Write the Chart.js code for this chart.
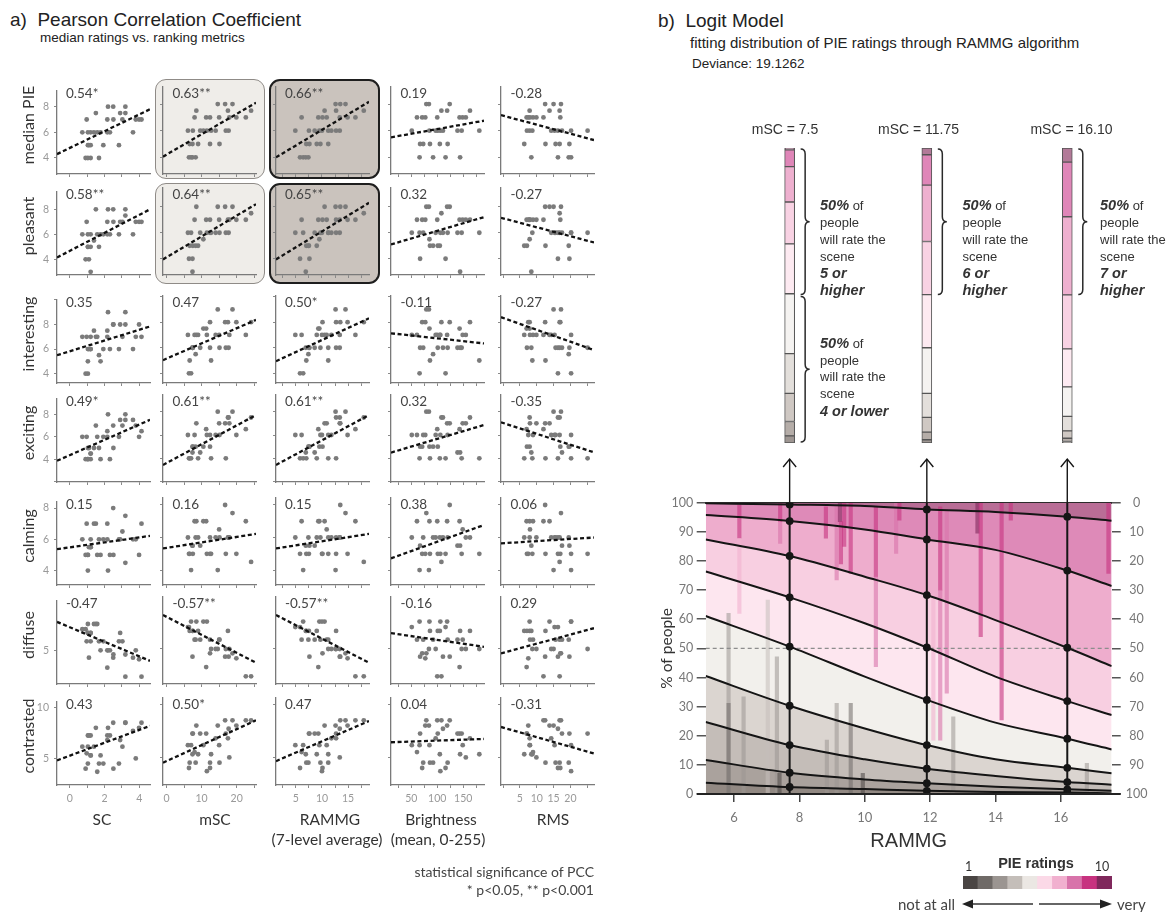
<!DOCTYPE html>
<html>
<head>
<meta charset="utf-8">
<script src="https://cdn.jsdelivr.net/npm/chart.js@4.4.1/dist/chart.umd.min.js"></script>
<style>
  html, body { margin:0; padding:0; background:#fff; }
  body { width:1169px; height:912px; position:relative; overflow:hidden; font-family:"Liberation Sans", Arial, sans-serif; }
  canvas { position:absolute; }
  .t { position:absolute; white-space:pre; color:#222; }
  .box { position:absolute; box-sizing:border-box; }
</style>
</head>
<body>
<script>
// =================== DATA : panel a (31 scenes) ===================
const metricNames = ['SC', 'mSC', 'RAMMG', 'Brightness', 'RMS'];
const metricSub   = ['', '', '(7-level average)', '(mean, 0-255)', ''];
const ratingNames = ['median PIE', 'pleasant', 'interesting', 'exciting', 'calming', 'diffuse', 'contrasted'];

const sc         = [2.2, 2.5, 3.2, 1.5, 2.9, 3.2, 0.97, 2.16, 2.51, 3.03, 3.8, 3.99, 4.13, 0.72, 1.04, 1.2, 1.39, 1.58, 1.77, 2.16, 2.31, 3.64, 1.04, 1.1, 1.2, 1.93, 2.83, 0.91, 1.04, 1.2, 1.68];
const msc        = [14.6, 16.7, 18.8, 8.5, 17.5, 24.1, 8.0, 11.3, 12.4, 15.0, 17.9, 19.9, 22.6, 6.1, 7.5, 9.6, 10.5, 11.5, 12.7, 14.0, 16.9, 17.7, 6.6, 7.4, 9.0, 12.4, 15.1, 6.4, 7.0, 7.4, 8.3];
const rammg      = [12.6, 13.5, 14.5, 10.5, 12.7, 18.0, 6.1, 9.3, 10.1, 10.9, 13.4, 14.9, 16.4, 4.9, 7.5, 8.6, 9.5, 10.0, 11.2, 11.8, 12.7, 13.4, 7.0, 7.6, 9.0, 9.7, 11.2, 5.8, 6.4, 6.9, 7.4];
const brightness = [84, 124, 79, 119, 163, 108, 61, 143, 71, 149, 155, 77, 100, 51, 101, 139, 85, 106, 181, 97, 147, 111, 86, 67, 105, 73, 120, 116, 66, 144, 92];
const rms        = [15.0, 12.5, 17.2, 13.8, 7.9, 16.8, 8.9, 7.0, 17.0, 8.0, 9.9, 7.5, 12.0, 15.3, 7.1, 17.5, 7.9, 20.2, 8.7, 14.3, 25.1, 16.3, 12.6, 19.7, 6.3, 16.8, 15.6, 16.3, 20.2, 8.4, 19.5];

const medianPIE   = [8, 8, 8, 7.5, 7.5, 7.5, 7, 7, 7, 7, 7, 7, 7, 6, 6, 6, 6, 6, 6, 6, 6, 6, 5, 5, 5, 5, 5, 4, 4, 4, 4];
const pleasant    = [8, 8, 8, 8, 7, 7.5, 7, 7, 7, 7, 7, 7, 7, 6, 5, 6, 5.5, 6, 6, 6, 6, 6, 5, 4, 5, 6, 6, 4, 6, 3, 5];
const interesting = [9, 8, 9, 7, 8, 8, 7, 7.5, 8, 7, 7, 8, 7, 7, 6, 6, 7.5, 7, 5, 7, 6, 6, 5, 6, 7, 6, 6, 4, 4, 6, 5.5];
const exciting    = [8, 7, 8, 7, 7.5, 7.5, 6, 6.5, 5, 7, 7, 6, 6.5, 6, 5, 4.5, 5, 6, 4, 6, 4, 7.5, 4, 5, 4, 6, 6, 4, 4, 4.5, 5];
const calming     = [4, 8, 7.5, 7, 6, 4.5, 7, 7, 5, 6.5, 6, 5, 7, 6, 5, 5.5, 7, 5, 5, 6, 5, 6, 5, 5.5, 6, 6, 6, 5, 4, 5.5, 6];
const diffuse     = [5.0, 4.86, 4.92, 5.5, 5.33, 4.5, 5.17, 4.67, 4.92, 5.17, 5.0, 4.83, 4.5, 5.4, 5.33, 5.17, 5.5, 5.5, 5.0, 5.0, 5.0, 4.86, 5.33, 4.86, 5.33, 5.17, 5.17, 5.4, 5.5, 5.33, 5.17];
const contrasted  = [8, 8.5, 8.5, 8, 6.8, 8.5, 5.5, 7.25, 4.0, 6.15, 5.0, 8, 8.5, 6.15, 7.25, 7.25, 6.15, 3.7, 5.3, 6.8, 7.25, 7.7, 4.5, 7.25, 5.3, 4.5, 4.5, 4.0, 6.15, 5.3, 4.5];

// regression (dashed) line values at the left and right end of each x axis, per rating row
const fitStart = [
  [4.3, 4.05, 4.0, 5.5, 7.17],
  [4.15, 3.95, 3.95, 5.1, 7.15],
  [5.5, 5.03, 4.95, 7.13, 8.39],
  [3.86, 3.43, 3.43, 4.49, 7.09],
  [5.37, 5.33, 5.33, 4.72, 5.64],
  [5.54, 5.62, 5.62, 5.29, 4.92],
  [4.81, 4.5, 4.65, 6.43, 7.87]
];
const fitEnd = [
  [7.8, 8.1, 8.17, 6.75, 5.3],
  [8.0, 8.2, 8.3, 7.2, 5.25],
  [7.84, 8.18, 8.3, 6.34, 5.82],
  [7.51, 7.71, 7.71, 6.86, 4.51],
  [6.22, 6.22, 6.22, 6.77, 6.0],
  [4.8, 4.75, 4.75, 5.04, 5.38],
  [8.19, 8.5, 8.43, 6.74, 5.37]
];
const pccLabels = [
  ['0.54*', '0.63**', '0.66**', '0.19', '-0.28'],
  ['0.58**', '0.64**', '0.65**', '0.32', '-0.27'],
  ['0.35', '0.47', '0.50*', '-0.11', '-0.27'],
  ['0.49*', '0.61**', '0.61**', '0.32', '-0.35'],
  ['0.15', '0.16', '0.15', '0.38', '0.06'],
  ['-0.47', '-0.57**', '-0.57**', '-0.16', '0.29'],
  ['0.43', '0.50*', '0.47', '0.04', '-0.31']
];
const xTickLabels = [[0, 2, 4], [0, 10, 20], [5, 10, 15], [50, 100, 150], [5, 10, 15, 20]];
const yTickLabels = [[4, 6, 8], [4, 6, 8], [4, 6, 8], [4, 6, 8], [4, 6, 8], [5], [5, 10]];

// =================== DATA : panel b (logit model) ===================
const rammgGrid  = [5.13, 7.7, 10, 11.9, 14, 16.2, 17.56];
const sliceRammg = [7.7, 11.9, 16.2];
const sliceLabels = ['mSC = 7.5', 'mSC = 11.75', 'mSC = 16.10'];
// cumulative % of people at each category boundary (top: 9|10 ... bottom: 1|2)
const b9_10 = [99.8, 99.4, 98.9, 97.7, 96.8, 95.2, 93.8];
const b8_9  = [95.8, 93.7, 90.8, 87.4, 83.8, 76.7, 71.4];
const b7_8  = [87.4, 81.7, 74.6, 68.3, 59.7, 50.2, 43.9];
const b6_7  = [76.4, 67.5, 58.6, 50.3, 40.3, 31.9, 27.1];
const b5_6  = [61.1, 50.6, 40.3, 32.3, 24.5, 19.0, 15.3];
const b4_5  = [40.5, 30.3, 22.5, 16.8, 11.9, 9.0, 7.1];
const b3_4  = [24.7, 16.8, 11.9, 8.7, 6.2, 4.1, 3.2];
const b2_3  = [11.7, 7.3, 5.0, 3.7, 2.5, 1.6, 1.1];
const b1_2  = [3.9, 2.4, 1.7, 1.1, 0.7, 0.5, 0.2];
const boundaries = [b9_10, b8_9, b7_8, b6_7, b5_6, b4_5, b3_4, b2_3, b1_2];

const pieRatings = [1, 2, 3, 4, 5, 6, 7, 8, 9, 10];
// observed rating streaks (RAMMG, low %, high %, rating)
const stripeX      = [6.16, 6.16, 7.41, 7.41, 8.81, 9.14, 9.24, 9.27, 9.37, 9.57, 10.34, 10.34, 10.96, 11.06, 12.1, 12.31, 12.31, 12.51, 13.45, 13.55, 14.19, 14.47, 17.46, 5.83, 5.83, 6.29, 7.03, 7.31, 7.39, 8.84, 9.14, 9.57, 9.94, 12.71, 16.8];
const stripeLow    = [87.8, 62, 93.5, 86, 87.8, 73.5, 93.5, 79, 85, 75.7, 74.6, 43.7, 82.6, 94, 18.5, 70, 18.5, 34.6, 89.5, 54, 25.4, 94, 75.7, 0.2, 0.2, 0.2, 0.2, 0.2, 0.2, 0.2, 0.2, 0.2, 0.2, 0.2, 0.2];
const stripeHigh   = [99.2, 87.8, 99.8, 93.5, 98.6, 98.6, 99.8, 93.5, 99.8, 99.8, 98.6, 74.6, 99.8, 99.8, 68.9, 98.6, 70, 97.5, 99.8, 99.8, 99.8, 99.8, 99.8, 62, 31.1, 33.4, 66.6, 47.1, 7.1, 18.5, 31.1, 31.1, 7.1, 26.5, 10.5];
const stripeRating = [9, 7, 9, 8, 9, 8, 10, 9, 9, 9, 9, 8, 8, 9, 7, 9, 8, 8, 10, 9, 9, 9, 9, 3, 2, 3, 4, 3, 1, 3, 3, 2, 1, 3, 3];

// =================== STYLE ===================
const legendColors = ['#4a4543', '#6f6a67', '#9b9591', '#c4beb9', '#ebe7e3', '#fbd9e7', '#f1b0cf', '#d873aa', '#c7327f', '#80285c'];
const regionColors = ['#928983', '#aaa29d', '#c4bdb8', '#dbd5d0', '#f2f0ec', '#fde6ef', '#f8cfe1', '#eeadcd', '#de8ab8', '#b96d96'];
const barColors    = ['#9e9692', '#b5ada8', '#cfc8c3', '#e3dfdb', '#f5f3f1', '#fdeaf1', '#f8d2e3', '#eeb0cf', '#df86b8', '#b27a98'];
const MYR = 'Lato, "Open Sans", sans-serif';
const ARI = '"Liberation Sans", Arial, sans-serif';

function hexA(hex, a) {
  const n = parseInt(hex.slice(1), 16);
  return `rgba(${(n >> 16) & 255},${(n >> 8) & 255},${n & 255},${a})`;
}
function txt(html, x, y, o = {}) {
  const d = document.createElement('div');
  d.className = 't';
  d.innerHTML = html;
  const s = d.style;
  s.left = x + 'px'; s.top = y + 'px';
  s.fontFamily = o.family || ARI;
  s.fontSize = (o.size || 13) + 'px';
  s.color = o.color || '#222';
  s.lineHeight = o.lh ? o.lh + 'px' : '1';
  if (o.weight) s.fontWeight = o.weight;
  const tx = o.align === 'center' ? '-50%' : o.align === 'right' ? '-100%' : '0';
  const ty = o.top ? '0' : '-50%';
  s.transform = `translate(${tx}, ${ty})` + (o.rotate ? ` rotate(${o.rotate}deg)` : '');
  document.body.appendChild(d);
  return d;
}
function box(x, y, w, h, fill, border, bw) {
  const d = document.createElement('div');
  d.className = 'box';
  Object.assign(d.style, { left: x + 'px', top: y + 'px', width: w + 'px', height: h + 'px',
    background: fill, border: `${bw}px solid ${border}`, borderRadius: '11px' });
  document.body.appendChild(d);
}
function canvasAt(x, y, w, h) {
  const c = document.createElement('canvas');
  c.width = w; c.height = h;
  c.style.left = x + 'px'; c.style.top = y + 'px';
  c.style.width = w + 'px'; c.style.height = h + 'px';
  document.body.appendChild(c);
  return c;
}
const baseOpts = { responsive: false, animation: false, events: [], devicePixelRatio: 1,
  plugins: { legend: { display: false }, tooltip: { enabled: false } } };

// =================== PANEL A ===================
const metrics = [sc, msc, rammg, brightness, rms];
const ratings = [medianPIE, pleasant, interesting, exciting, calming, diffuse, contrasted];
const colLeft = [56.5, 163, 275.5, 391, 501];
const rowBottom = [174, 275, 383, 482, 585, 684, 785];
const CW = 93, CH = 87;
const xRanges = [[-0.74, 4.62], [-1, 25.5], [1.2, 19.0], [11, 190], [-0.6, 27]];
const xSteps = [1, 5, 2.5, 25, 5];
const yRanges = [[2.75, 9.28], [2.75, 9.44], [3.24, 10.05], [1.97, 9.43], [3.08, 8.43], [4.36, 5.95], [2.4, 10.6]];
const ySteps = [2, 2, 2, 2, 2, 1, 5];

// highlight boxes (mSC and RAMMG vs median PIE / pleasant)
box(155, 79, 110, 100, '#efede9', '#8f8b87', 1.2);
box(155, 183, 110, 101, '#efede9', '#8f8b87', 1.2);
box(269, 79, 111, 100, '#cac3bd', '#1e1e1e', 2.6);
box(269, 183, 111, 101, '#cac3bd', '#1e1e1e', 2.6);

txt('a)  Pearson Correlation Coefficient', 10, 18.5, { size: 19 });
txt('median ratings vs. ranking metrics', 40, 37.5, { size: 13.5 });

for (let r = 0; r < 7; r++) {
  for (let c = 0; c < 5; c++) {
    const top = rowBottom[r] - CH;
    const cv = canvasAt(colLeft[c] - 30, top - 8, 30 + CW + 6, 8 + CH + 25);
    const pts = ratings[r].map((v, i) => ({ x: metrics[c][i], y: v }));
    new Chart(cv, {
      type: 'scatter',
      data: { datasets: [
        { data: pts, pointRadius: 2.4, pointBackgroundColor: '#7b7b7b', pointBorderWidth: 0, order: 2 },
        { type: 'line', data: [{ x: xRanges[c][0], y: fitStart[r][c] }, { x: xRanges[c][1], y: fitEnd[r][c] }],
          borderColor: '#111', borderWidth: 2.3, borderDash: [4, 2.6], pointRadius: 0, fill: false, order: 1 }
      ]},
      options: Object.assign({}, baseOpts, {
        layout: { padding: { top: 8, right: 6, left: 0, bottom: 0 } },
        scales: {
          x: { type: 'linear', min: xRanges[c][0], max: xRanges[c][1],
            afterFit: a => { a.height = 25; },
            grid: { drawOnChartArea: false, drawTicks: true, tickLength: 3, color: '#8a8a8a', lineWidth: 1 },
            border: { display: true, color: '#7a7a7a', width: 1.3 },
            ticks: { display: r === 6, stepSize: xSteps[c], includeBounds: false, padding: 4, maxRotation: 0, autoSkip: false,
              color: '#999', font: { family: MYR, size: 10.5 },
              callback: v => xTickLabels[c].includes(v) ? String(v) : '' } },
          y: { type: 'linear', min: yRanges[r][0], max: yRanges[r][1],
            afterFit: a => { a.width = 30; },
            grid: { drawOnChartArea: false, drawTicks: true, tickLength: 3, color: '#8a8a8a', lineWidth: 1 },
            border: { display: true, color: '#7a7a7a', width: 1.3 },
            ticks: { display: c === 0, stepSize: ySteps[r], includeBounds: false, padding: 5, autoSkip: false,
              color: '#999', font: { family: MYR, size: 10.5 },
              callback: v => yTickLabels[r].includes(v) ? String(v) : '' } }
        }
      })
    });
    txt(pccLabels[r][c], colLeft[c] + 9.5, top + 6.5, { family: MYR, size: 13.5, color: '#444' });
  }
  txt(ratingNames[r], 28, rowBottom[r] - CH / 2 - 6, { family: MYR, size: 16, color: '#333', align: 'center', rotate: -90 });
}
const colLabelX = [102, 215, 330, 441, 553];
for (let c = 0; c < 5; c++) {
  txt(metricNames[c], colLabelX[c], 820, { family: MYR, size: 15.5, color: '#333', align: 'center' });
  if (metricSub[c]) txt(metricSub[c], colLabelX[c] - 3, 839.5, { family: MYR, size: 15.5, color: '#333', align: 'center' });
}
txt('statistical significance of PCC', 594, 871.5, { family: MYR, size: 14, color: '#444', align: 'right' });
txt('* p&lt;0.05, ** p&lt;0.001', 594, 889.5, { family: MYR, size: 14, color: '#444', align: 'right' });

// =================== PANEL B ===================
txt('b)  Logit Model', 658, 19.5, { size: 19 });
txt('fitting distribution of PIE ratings through RAMMG algorithm', 690, 42, { size: 15 });
txt('Deviance: 19.1262', 692, 63.5, { size: 13.5 });

const X_MIN = 5.13, X_MAX = 17.56;
const sliceIdx = sliceRammg.map(v => rammgGrid.indexOf(v));
function lowerOf(r, k) { return r === 1 ? 0 : boundaries[10 - r][k]; }
function upperOf(r, k) { return r === 10 ? 100 : boundaries[9 - r][k]; }

// ---- stacked distribution bars at the three slices ----
const braceSpecs = [
  { s: 0, from: 100, to: 50 }, { s: 0, from: 50, to: 0 },
  { s: 1, from: 100, to: 50 }, { s: 2, from: 100, to: 50 }
];
const bracePlugin = {
  id: 'braces',
  afterDraw(chart) {
    const { ctx, scales: { x, y } } = chart;
    ctx.save();
    ctx.strokeStyle = '#2a2a2a'; ctx.lineWidth = 1.5;
    braceSpecs.forEach(b => {
      const bx = x.getPixelForValue(sliceRammg[b.s]) + 11;
      const y1 = y.getPixelForValue(b.from) + 1, y2 = y.getPixelForValue(b.to) - 1;
      const w = 9, mid = (y1 + y2) / 2, rr = 5, hx = bx + w * 0.5;
      ctx.beginPath();
      ctx.moveTo(bx, y1);
      ctx.quadraticCurveTo(hx, y1, hx, y1 + rr);
      ctx.lineTo(hx, mid - rr);
      ctx.quadraticCurveTo(hx, mid, bx + w, mid);
      ctx.quadraticCurveTo(hx, mid, hx, mid + rr);
      ctx.lineTo(hx, y2 - rr);
      ctx.quadraticCurveTo(hx, y2, bx, y2);
      ctx.stroke();
    });
    ctx.restore();
  }
};
const topCv = canvasAt(640, 100, 529, 350);
new Chart(topCv, {
  type: 'bar',
  data: { datasets: pieRatings.map(r => ({
    data: sliceIdx.map(k => ({ x: rammgGrid[k], y: [lowerOf(r, k), upperOf(r, k)] })),
    backgroundColor: barColors[r - 1], borderColor: '#555', borderWidth: 1, borderSkipped: false,
    barThickness: 10, grouped: false
  })) },
  options: Object.assign({}, baseOpts, {
    layout: { padding: { left: 65.7, right: 57.3, top: 48, bottom: 7 } },
    scales: {
      x: { type: 'linear', display: false, min: X_MIN, max: X_MAX, offset: false, grid: { offset: false } },
      y: { display: false, min: 0, max: 100 }
    }
  }),
  plugins: [bracePlugin]
});
const sliceLabelX = [785, 918.5, 1071.5];
sliceLabels.forEach((s, i) => txt(s, sliceLabelX[i], 128.5, { size: 14, color: '#333', align: 'center' }));

const bi = s => `<b><i style="font-size:14.5px">${s}</i></b>`;
txt(`${bi('50%')} of\npeople\nwill rate the\nscene\n${bi('5 or')}\n${bi('higher')}`, 820, 197, { size: 13, color: '#333', lh: 17, top: true });
txt(`${bi('50%')} of\npeople\nwill rate the\nscene\n${bi('4 or lower')}`, 820, 335, { size: 13, color: '#333', lh: 16.7, top: true });
txt(`${bi('50%')} of\npeople\nwill rate the\nscene\n${bi('6 or')}\n${bi('higher')}`, 962.5, 197, { size: 13, color: '#333', lh: 17, top: true });
txt(`${bi('50%')} of\npeople\nwill rate the\nscene\n${bi('7 or')}\n${bi('higher')}`, 1100, 197, { size: 13, color: '#333', lh: 17, top: true });

// ---- logit model plot ----
const sliceLinesPlugin = {
  id: 'sliceLines',
  afterDatasetsDraw(chart) {
    const { ctx, scales: { x, y } } = chart;
    ctx.save();
    ctx.strokeStyle = '#161616';
    sliceRammg.forEach(v => {
      const px = x.getPixelForValue(v);
      const yb = y.getPixelForValue(0), ytop = y.getPixelForValue(100), tip = 9;
      ctx.lineWidth = 2;
      ctx.beginPath(); ctx.moveTo(px, yb); ctx.lineTo(px, ytop); ctx.stroke();
      ctx.lineWidth = 1.4;
      ctx.beginPath(); ctx.moveTo(px, ytop); ctx.lineTo(px, tip); ctx.stroke();
      ctx.beginPath(); ctx.moveTo(px - 6.5, tip + 8); ctx.lineTo(px, tip); ctx.lineTo(px + 6.5, tip + 8); ctx.stroke();
    });
    // bottom axis line extends under the tick marks on both sides
    ctx.strokeStyle = '#222'; ctx.lineWidth = 2;
    const yb = y.getPixelForValue(0);
    ctx.beginPath(); ctx.moveTo(chart.chartArea.left - 9, yb); ctx.lineTo(chart.chartArea.right + 9, yb); ctx.stroke();
    ctx.restore();
  }
};
const curveDatasets = boundaries.map((b, i) => ({
  type: 'line',
  data: rammgGrid.map((x, k) => ({ x, y: b[k] })),
  borderColor: '#151515', borderWidth: 2, cubicInterpolationMode: 'monotone',
  fill: i === 0 ? 'end' : '-1', backgroundColor: regionColors[9 - i],
  pointRadius: ctx => sliceRammg.includes(rammgGrid[ctx.dataIndex]) ? 3.9 : 0,
  pointBackgroundColor: '#151515', pointBorderWidth: 0, order: 0
}));
curveDatasets.push({
  type: 'line', data: rammgGrid.map((x, k) => ({ x, y: b1_2[k] })),
  borderWidth: 0, cubicInterpolationMode: 'monotone', fill: 'origin',
  backgroundColor: regionColors[0], pointRadius: 0, order: 3
});
curveDatasets.push({
  type: 'line', data: [{ x: X_MIN, y: 50 }, { x: X_MAX, y: 50 }],
  borderColor: '#8d8d8d', borderWidth: 1.2, borderDash: [4, 3], fill: false, pointRadius: 0, order: 1
});
curveDatasets.push({
  type: 'bar',
  data: stripeX.map((x, i) => ({ x, y: [stripeLow[i], stripeHigh[i]] })),
  backgroundColor: stripeRating.map(r => hexA(legendColors[r - 1], r <= 5 ? 0.55 : 0.6)),
  borderWidth: 0, barThickness: 3.5, order: 5
});

const mainCv = canvasAt(640, 450, 529, 412);
new Chart(mainCv, {
  type: 'line',
  data: { datasets: curveDatasets },
  options: Object.assign({}, baseOpts, {
    layout: { padding: { top: 52.7, left: 0, right: 0, bottom: 0 } },
    plugins: { legend: { display: false }, tooltip: { enabled: false }, filler: { drawTime: 'beforeDatasetsDraw' } },
    scales: {
      x: { type: 'linear', position: 'bottom', min: X_MIN, max: X_MAX, offset: false,
        afterFit: a => { a.height = 68; },
        grid: { offset: false, drawOnChartArea: false, tickLength: 8, color: '#444', lineWidth: 1.5 },
        border: { display: true, color: '#222', width: 2 },
        ticks: { stepSize: 2, includeBounds: false, padding: 8, color: '#777', font: { family: MYR, size: 13 } },
        title: { display: true, text: 'RAMMG', color: '#333', font: { family: ARI, size: 20 }, padding: { top: 0, bottom: 8.3 } } },
      xTop: { type: 'linear', position: 'top', min: X_MIN, max: X_MAX, offset: false,
        afterFit: a => { a.height = 0; },
        grid: { display: false, drawTicks: false, offset: false }, ticks: { display: false },
        border: { display: true, color: '#2a2a2a', width: 2 } },
      y: { position: 'left', min: 0, max: 100,
        afterFit: a => { a.width = 65.7; },
        grid: { drawOnChartArea: false, tickLength: 9, color: '#555', lineWidth: 1.5 },
        border: { display: false },
        ticks: { stepSize: 10, padding: 3.5, color: '#777', font: { family: MYR, size: 12.5 } },
        title: { display: true, text: '% of people', color: '#333', font: { family: MYR, size: 15.5 }, padding: { top: 17.4, bottom: 0 } } },
      y2: { position: 'right', min: 0, max: 100, reverse: true,
        afterFit: a => { a.width = 57.3; },
        grid: { drawOnChartArea: false, tickLength: 9, color: '#555', lineWidth: 1.5 },
        border: { display: false },
        ticks: { stepSize: 10, padding: 5, crossAlign: 'center', color: '#777', font: { family: MYR, size: 12.5 } } }
    }
  }),
  plugins: [sliceLinesPlugin]
});

// ---- PIE ratings legend ----
const legCv = canvasAt(963, 876, 149, 13);
new Chart(legCv, {
  type: 'bar',
  data: { labels: pieRatings.map(String), datasets: [{
    data: pieRatings.map(() => 1), backgroundColor: legendColors, borderWidth: 0,
    barPercentage: 1, categoryPercentage: 1 }] },
  options: Object.assign({}, baseOpts, {
    layout: { padding: 0 },
    scales: { x: { display: false }, y: { display: false, min: 0, max: 1 } }
  })
});
txt(String(pieRatings[0]), 968.5, 867, { family: MYR, size: 12.5, color: '#333', align: 'center' });
txt(String(pieRatings[9]), 1102, 867, { family: MYR, size: 12.5, color: '#333', align: 'center' });
txt('PIE ratings', 1036, 863, { size: 14.5, weight: 'bold', color: '#333', align: 'center' });
txt('not at all', 955, 904, { family: MYR, size: 15, color: '#444', align: 'right' });
txt('very', 1117, 904, { family: MYR, size: 15, color: '#444' });
const arr = document.createElementNS('http://www.w3.org/2000/svg', 'svg');
arr.setAttribute('width', '170'); arr.setAttribute('height', '14');
arr.style.position = 'absolute'; arr.style.left = '958px'; arr.style.top = '897px';
arr.innerHTML = '<line x1="14" y1="7" x2="75" y2="7" stroke="#333" stroke-width="1.3"/>' +
  '<polygon points="4,7 15,2.5 15,11.5" fill="#222"/>' +
  '<line x1="81" y1="7" x2="143" y2="7" stroke="#333" stroke-width="1.3"/>' +
  '<polygon points="154,7 142,2.5 142,11.5" fill="#222"/>';
document.body.appendChild(arr);
</script>
</body>
</html>
